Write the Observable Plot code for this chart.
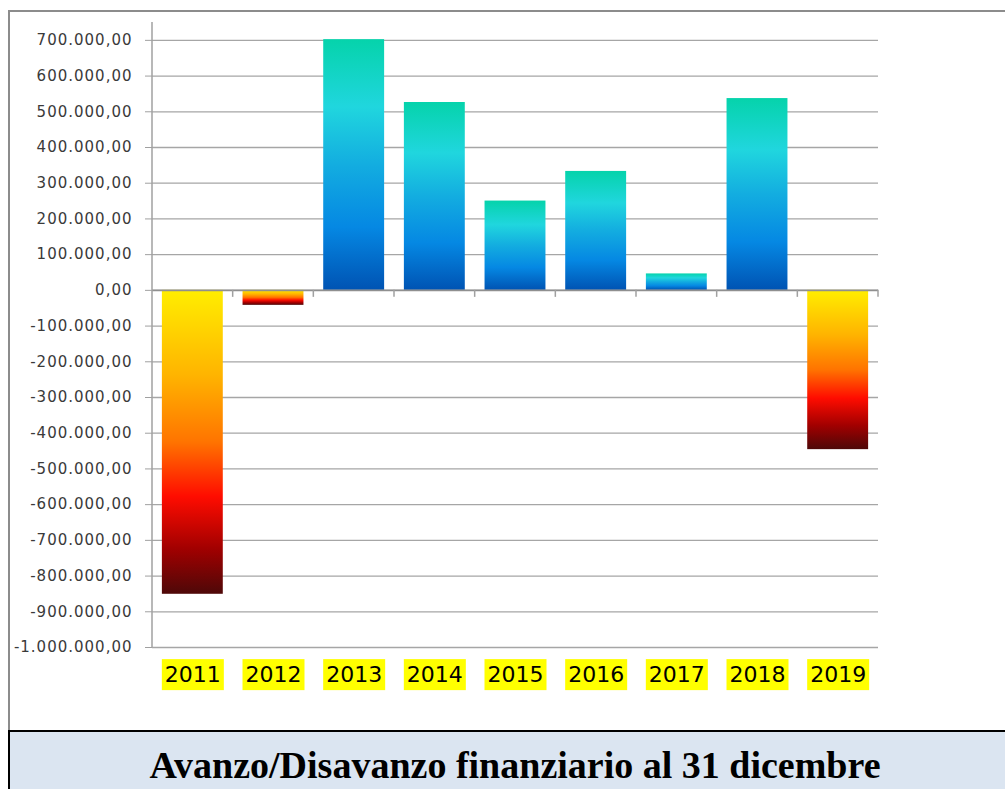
<!DOCTYPE html>
<html>
<head>
<meta charset="utf-8">
<script src="https://cdn.jsdelivr.net/npm/d3@7"></script>
<script src="https://cdn.jsdelivr.net/npm/@observablehq/plot@0.6"></script>
<style>
  html, body { margin: 0; padding: 0; background: #fff; }
  body { width: 1005px; height: 789px; overflow: hidden; position: relative; font-family: "DejaVu Sans", sans-serif; }
  #chart { position: absolute; left: 0; top: 0; }
  #frame { position: absolute; left: 8px; top: 10px; width: 1100px; height: 722px;
           border-top: 2px solid #8c8c8c; border-left: 2px solid #8c8c8c; pointer-events: none; }
  #titlebox { position: absolute; left: 8px; top: 730px; width: 1100px; height: 80px;
              border: 2px solid #000; background: #dbe5f1; }
  #title { position: absolute; left: 0; top: 746px; width: 1030px; text-align: center;
           font-family: "Liberation Serif", "Times New Roman", serif; font-weight: bold;
           font-size: 38px; line-height: 38px; color: #000; white-space: nowrap; }
</style>
</head>
<body>
<div id="chart"></div>
<div id="frame"></div>
<div id="titlebox"></div>
<div id="title">Avanzo/Disavanzo finanziario al 31 dicembre</div>
<script>
const years = ["2011", "2012", "2013", "2014", "2015", "2016", "2017", "2018", "2019"];
const values = [-851000, -42000, 702000, 526000, 250000, 333000, 46000, 537000, -446000];
const yTicks = [-1000000, -900000, -800000, -700000, -600000, -500000, -400000, -300000,
                -200000, -100000, 0, 100000, 200000, 300000, 400000, 500000, 600000, 700000];

const data = years.map((year, i) => ({year, value: values[i]}));

const itLocale = d3.formatLocale({decimal: ",", thousands: ".", grouping: [3], currency: ["", " €"], minus: "-"});
const fmt = itLocale.format(",.2f");

const plot = Plot.plot({
  width: 1005,
  height: 720,
  marginLeft: 152,
  marginRight: 127,
  marginTop: 22,
  marginBottom: 73,
  style: {background: "transparent", fontFamily: "DejaVu Sans, sans-serif"},
  x: {domain: years, paddingInner: 0.245, paddingOuter: 0.1225, round: false, axis: null, label: null},
  y: {domain: [-1000000, 750000], axis: null, label: null},
  marks: [
    Plot.gridY(yTicks, {stroke: "#a6a6a6", strokeOpacity: 1, strokeWidth: 1.3}),
    Plot.barY(data.filter(d => d.value < 0), {x: "year", y: "value", fill: "url(#gNeg)"}),
    Plot.barY(data.filter(d => d.value >= 0), {x: "year", y: "value", fill: "url(#gPos)"}),
    Plot.ruleY([0], {stroke: "#8f8f8f", strokeWidth: 1.6}),
    Plot.axisY(yTicks, {tickFormat: fmt, tickSize: 7, tickPadding: 13, fontSize: 15,
                        stroke: "#a0a0a0", fill: "#3a3a3a", label: null}),
    Plot.axisX({anchor: "bottom", tickSize: 0, tickPadding: 19, fontSize: 22, fill: "#000", label: null})
  ]
});

document.getElementById("chart").appendChild(plot);
const svg = d3.select(plot);

// gradients
const defs = svg.insert("defs", ":first-child");
const gNeg = defs.append("linearGradient").attr("id", "gNeg").attr("x1", 0).attr("y1", 0).attr("x2", 0).attr("y2", 1);
[[0, "#ffee00"], [0.28, "#ffb400"], [0.5, "#ff7400"], [0.68, "#ff0c00"], [0.85, "#a20000"], [1, "#4e0808"]]
  .forEach(([o, c]) => gNeg.append("stop").attr("offset", o).attr("stop-color", c));
const gPos = defs.append("linearGradient").attr("id", "gPos").attr("x1", 0).attr("y1", 0).attr("x2", 0).attr("y2", 1);
[[0, "#05d3ab"], [0.27, "#20d6de"], [0.5, "#13ade0"], [0.75, "#0588e3"], [1, "#0053b3"]]
  .forEach(([o, c]) => gPos.append("stop").attr("offset", o).attr("stop-color", c));

// y-axis label spacing
svg.selectAll('g[aria-label="y-axis tick label"]').style("letter-spacing", "1px");

const xs = plot.scale("x");
const ys = plot.scale("y");
const step = xs.step, bw = xs.bandwidth;
const y0 = ys.apply(0);
const [xLeft, xRight] = xs.range;
const [yBottom, yTop] = ys.range;

// vertical axis line
svg.append("line").attr("x1", xLeft).attr("x2", xLeft)
  .attr("y1", Math.min(yTop, yBottom)).attr("y2", Math.max(yTop, yBottom))
  .attr("stroke", "#a0a0a0").attr("stroke-width", 1.5);

// category tick marks along zero line
years.forEach(yr => {
  const b = xs.apply(yr) + bw + (step - bw) / 2;
  svg.append("line").attr("x1", b).attr("x2", b).attr("y1", y0).attr("y2", y0 + 7)
    .attr("stroke", "#a0a0a0").attr("stroke-width", 1.5);
});

// yellow highlight behind year labels
svg.selectAll('g[aria-label="x-axis tick label"] text').each(function() {
  const bb = this.getBBox();
  const parent = this.parentNode;
  const t = this.getAttribute("transform");
  const r = document.createElementNS("http://www.w3.org/2000/svg", "rect");
  r.setAttribute("x", bb.x - 3);
  r.setAttribute("y", bb.y + bb.height / 2 - 15.5);
  r.setAttribute("width", bb.width + 6);
  r.setAttribute("height", 31);
  r.setAttribute("fill", "#ffff00");
  r.setAttribute("stroke", "none");
  if (t) r.setAttribute("transform", t);
  parent.insertBefore(r, this);
});
</script>
</body>
</html>
